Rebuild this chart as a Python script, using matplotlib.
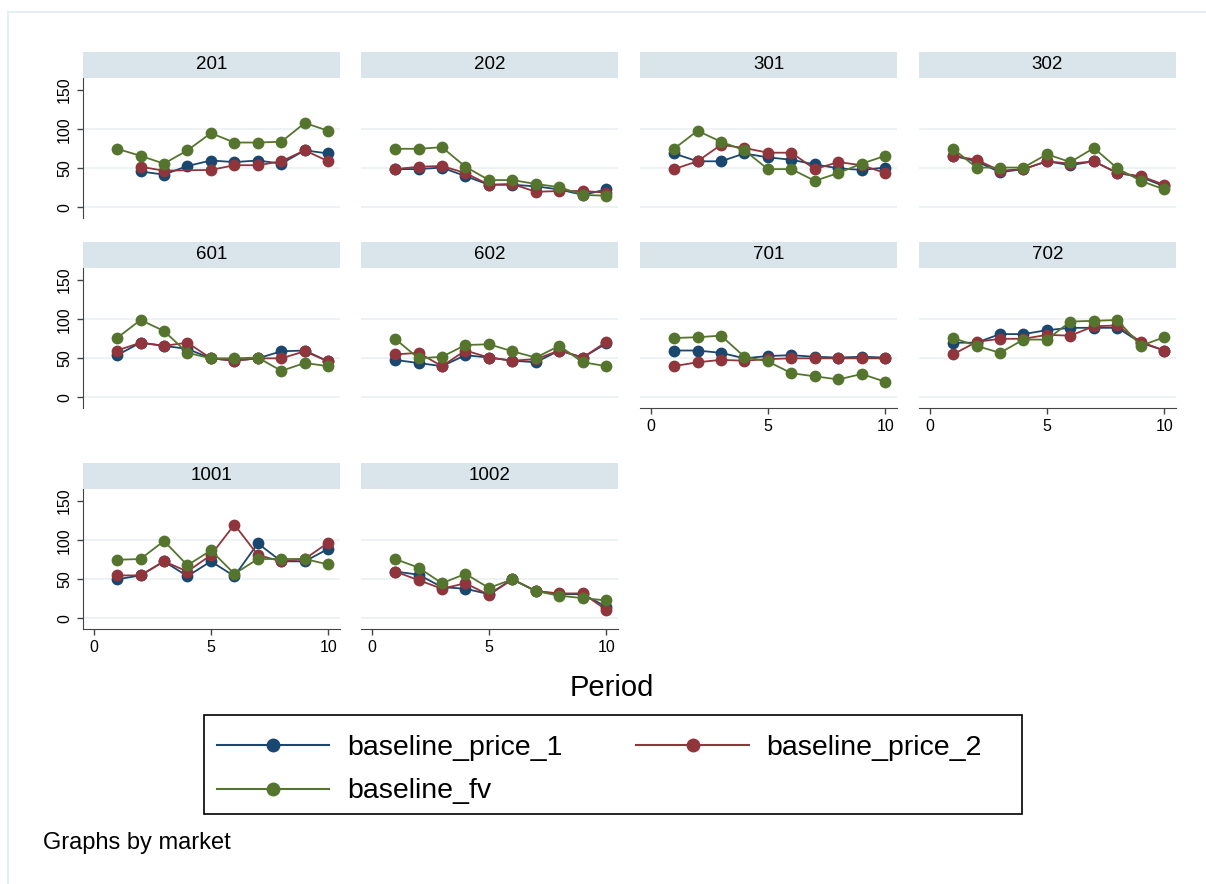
import numpy as np
import matplotlib.pyplot as plt
from matplotlib.lines import Line2D
from matplotlib.patches import Rectangle

plt.rcParams['font.family'] = ['Liberation Sans', 'DejaVu Sans']

nan = np.nan
period = np.arange(1, 11)
markets = ['201', '202', '301', '302', '601', '602', '701', '702', '1001', '1002']

# one row per market, in the order above
price_1 = [
    [nan, 46, 42, 53, 60, 58, 60, 56, 73, 69],
    [49, 49, 51, 40, 29, 29, 27, 23, 16, 23],
    [69, 59, 59, 69, 64, 61, 55, 50, 48, 51],
    [66, 59, 45, 49, 59, 54, 59, 44, 39, 27],
    [54, 70, 66, 62, 50, 47, 50, 59, 60, 46],
    [48, 44, 40, 54, 51, 47, 45, 60, 51, 69],
    [60, 60, 57, 50, 53, 54, 52, 51, 52, 51],
    [70, 70, 81, 81, 86, 89, 89, 89, 70, 60],
    [50, 55, 73, 54, 73, 54, 96, 73, 73, 89],
    [60, 56, 40, 38, 31, 50, 35, 31, 31, 15],
]
price_2 = [
    [nan, 52, 47, nan, 48, 54, 54, 59, 73, 59],
    [49, 52, 53, 44, 29, 30, 20, 21, 21, 19],
    [49, 59, 80, 76, 70, 70, 49, 58, 54, 44],
    [66, 61, 47, 49, 59, 56, 59, 44, 40, 29],
    [60, 70, 66, 70, 50, 47, 50, 50, 59, 46],
    [55, 57, 40, 60, 51, 47, 49, 60, 51, 71],
    [40, 45, 48, 47, 49, 50, 50, 50, 50, 50],
    [55, 71, 75, 75, 80, 79, 91, 92, 71, 60],
    [55, 55, 73, 60, 81, 120, 81, 73, 76, 97],
    [60, 49, 38, 45, 30, 50, 35, 32, 32, 11],
]
fv = [
    [75, 66, 56, 73, 95, 83, 83, 84, 108, 98],
    [75, 75, 77, 52, 35, 35, 30, 26, 16, 15],
    [75, 98, 84, 73, 49, 49, 34, 44, 56, 66],
    [75, 51, 51, 51, 68, 58, 76, 50, 34, 23],
    [76, 99, 85, 57, 50, 50, 51, 34, 44, 40],
    [75, 50, 52, 67, 68, 59, 51, 66, 45, 40],
    [76, 77, 79, 52, 46, 31, 27, 23, 30, 20],
    [76, 66, 57, 74, 74, 97, 98, 99, 66, 77],
    [75, 76, 99, 68, 87, 57, 76, 76, 76, 69],
    [76, 65, 45, 57, 39, 50, 35, 29, 26, 23],
]

series = [
    (price_1, 'baseline_price_1', '#1a476f'),
    (price_2, 'baseline_price_2', '#90353b'),
    (fv, 'baseline_fv', '#55752f'),
]

W, H = 1206, 884
fig = plt.figure(figsize=(W / 100, H / 100), dpi=100)
fig.patch.set_facecolor('white')

# light outer frame (graph region)
fig.add_artist(Rectangle((8 / W, -0.1), 1.2, 1 - 12 / H + 0.1, transform=fig.transFigure,
                         fill=False, edgecolor='#e6eef1', linewidth=1.5))

col_left = [83, 361, 640, 919]
row_bottom = [218, 408, 629]
ax_w, ax_h, strip_h = 257, 140, 26.5
has_xaxis = {'701', '702', '1001', '1002'}

for i, m in enumerate(markets):
    r, c = divmod(i, 4)
    ax = fig.add_axes([col_left[c] / W, 1 - row_bottom[r] / H, ax_w / W, ax_h / H])
    ax.set_xlim(-0.45, 10.5)
    ax.set_ylim(-13.5, 165.5)
    for yv in [0, 50, 100]:
        ax.axhline(yv, color='#eaf1f3', lw=1.2, zorder=0)

    for data, lab, col in series:
        y = np.array(data[i], dtype=float)
        ok = ~np.isnan(y)
        ax.plot(period[ok], y[ok], color=col, lw=1.3, marker='o', markersize=8.5,
                markeredgewidth=0, zorder=3)

    # strip with the market label
    sh = strip_h / ax_h
    ax.add_patch(Rectangle((0, 1), 1, sh, transform=ax.transAxes, clip_on=False,
                           facecolor='#d9e5ea', edgecolor='none'))
    ax.text(0.5, 1 + sh / 2, m, transform=ax.transAxes, ha='center', va='center',
            fontsize=13.5)

    for s in ['top', 'right']:
        ax.spines[s].set_visible(False)
    ax.spines['left'].set_color('#444444')
    ax.spines['bottom'].set_color('#444444')

    ax.set_yticks([0, 50, 100, 150])
    ax.set_xticks([0, 5, 10])
    ax.tick_params(length=4, width=1, color='#444444', labelsize=11.5, pad=4)
    if c == 0:
        ax.set_yticklabels(['0', '50', '100', '150'], rotation=90, va='center')
    else:
        ax.spines['left'].set_visible(False)
        ax.tick_params(axis='y', left=False, labelleft=False)
    if m not in has_xaxis:
        ax.spines['bottom'].set_visible(False)
        ax.tick_params(axis='x', bottom=False, labelbottom=False)

fig.text(612 / W, 1 - 688 / H, 'Period', fontsize=21, ha='center', va='center')

# legend box drawn separately so its size matches
fig.add_artist(Rectangle((204 / W, 1 - 814 / H), 818 / W, 99 / H, transform=fig.transFigure,
                         fill=False, edgecolor='black', linewidth=1.2))
handles = [Line2D([], [], color=col, lw=1.5, marker='o', markersize=10, markeredgewidth=0)
           for _, _, col in series]
labels = [lab for _, lab, _ in series]
order = [0, 2, 1]
fig.legend([handles[k] for k in order], [labels[k] for k in order], ncol=2,
           loc='upper left', bbox_to_anchor=(204 / W, 1 - 722 / H),
           fontsize=20.5, frameon=False,
           handlelength=3.95, handletextpad=0.62, columnspacing=2.6,
           borderpad=0.45, labelspacing=0.62, borderaxespad=0)

fig.text(43 / W, 1 - 843 / H, 'Graphs by market', fontsize=17, va='center')

fig.savefig('out.png', dpi=100)
